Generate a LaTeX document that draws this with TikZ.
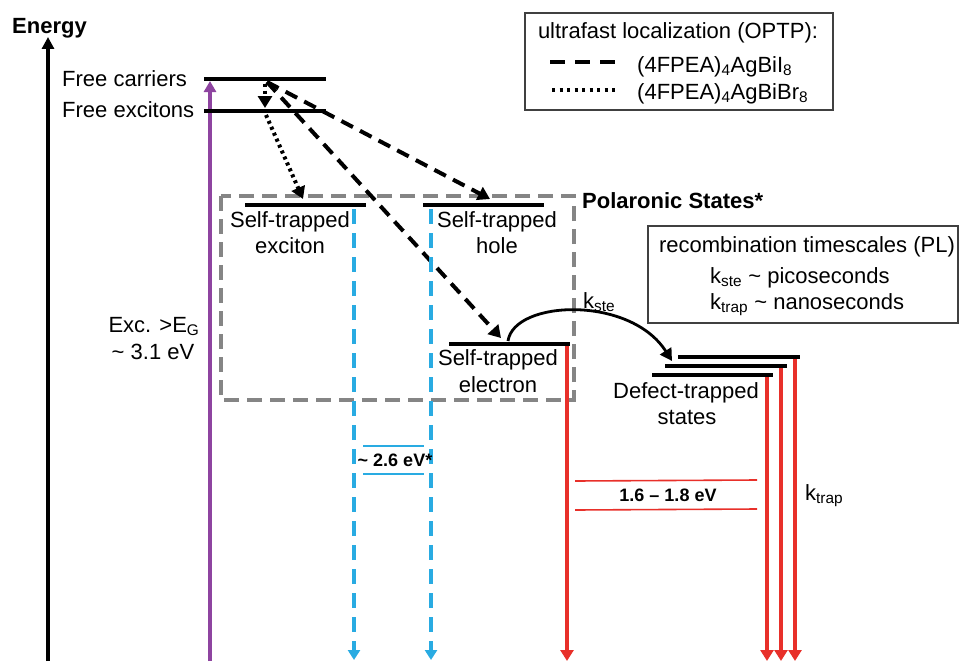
\documentclass[tikz,border=0pt]{standalone}
\usepackage{fontspec}
\setmainfont{Liberation Sans}
\usetikzlibrary{arrows.meta}
\definecolor{excpurple}{HTML}{8E44A0}
\definecolor{skyblue}{HTML}{29ABE2}
\definecolor{lumred}{HTML}{E8302A}
\definecolor{boxgray}{HTML}{858585}
\begin{document}
\begin{tikzpicture}[x=1pt,y=-1pt,
  lvl/.style={line width=3.8pt},
  txt/.style={font=\fontsize{22}{26}\selectfont, inner sep=0pt, anchor=base},
  btxt/.style={font=\fontsize{22}{26}\selectfont\bfseries, inner sep=0pt, anchor=base},
  smallb/.style={font=\fontsize{18}{22}\selectfont\bfseries, inner sep=0pt, anchor=base},
  dashedarrow/.style={line width=4pt, dash pattern=on 13pt off 8pt, -{Triangle[width=14pt,length=12pt]}},
  dottedarrow/.style={line width=4pt, dash pattern=on 3pt off 3.5pt, -{Triangle[width=14pt,length=12pt]}},
  bluearrow/.style={draw=skyblue, line width=3.3pt, dash pattern=on 15pt off 9pt, -{Triangle[width=12pt,length=10pt]}},
  redarrow/.style={draw=lumred, line width=3.3pt, -{Triangle[width=13pt,length=11pt]}},
  infobox/.style={draw=black!75, line width=1.2pt}
]
\useasboundingbox (0,0) rectangle (960,661);

% energy axis
\coordinate (axB) at (48,661);
\coordinate (axT) at (48,37);
\draw[line width=4pt, -{Triangle[width=12pt,length=12pt]}] (axB) -- (axT);
\node[btxt] (energy) at (49.5,34) {Energy};

% excitation
\coordinate (exB) at (210,661);
\coordinate (exT) at (210,81);
\draw[draw=excpurple, line width=3.3pt, -{Triangle[width=12pt,length=11pt]}] (exB) -- (exT);
\node[txt] (exc1) at (154,332) {Exc. >E\textsubscript{G}};
\node[txt] (exc2) at (153,359) {\textasciitilde{} 3.1 eV};

% free carriers / excitons
\coordinate (fcL) at (204,79); \coordinate (fcR) at (326,79);
\coordinate (feL) at (204,111); \coordinate (feR) at (326,111);
\draw[lvl] (fcL) -- (fcR);
\draw[lvl] (feL) -- (feR);
\node[txt, anchor=base west] (fc) at (62,86) {Free carriers};
\node[txt, anchor=base west] (fe) at (62,117) {Free excitons};

% polaronic box
\coordinate (pbTL) at (221,196);
\coordinate (pbBR) at (574,400);
\draw[draw=boxgray, line width=3.3pt, dash pattern=on 15pt off 8pt] (pbTL) rectangle (pbBR);
\node[btxt, anchor=base west] (pol) at (582,208) {Polaronic States*};

% self-trapped levels
\coordinate (steL) at (245,205); \coordinate (steR) at (366,205);
\coordinate (sthL) at (423,205); \coordinate (sthR) at (544,205);
\coordinate (steeL) at (449,344); \coordinate (steeR) at (570,344);
\draw[lvl] (steL) -- (steR);
\draw[lvl] (sthL) -- (sthR);
\draw[lvl] (steeL) -- (steeR);
\node[txt] (ste1) at (290,227) {Self-trapped};
\node[txt] (ste2) at (290,253) {exciton};
\node[txt] (sth1) at (497,227) {Self-trapped};
\node[txt] (sth2) at (497,253) {hole};
\node[txt] (stee1) at (498,365) {Self-trapped};
\node[txt] (stee2) at (498,392) {electron};

% localization arrows
\coordinate (src) at (267,82);
\coordinate (dsrc) at (265,84);
\coordinate (dmid) at (265,108);
\coordinate (dsrc2) at (266,115);
\coordinate (steTop) at (303,199);
\coordinate (sthTop) at (490,199);
\coordinate (steeTop) at (501,338);
\draw[dottedarrow] (dsrc) -- (dmid);
\draw[dottedarrow] (dsrc2) -- (steTop);
\draw[dashedarrow] (src) -- (sthTop);
\draw[dashedarrow] (src) -- (steeTop);

% blue emission
\coordinate (b1T) at (354,209); \coordinate (b1B) at (354,660);
\coordinate (b2T) at (431,209); \coordinate (b2B) at (431,660);
\draw[bluearrow] (b1T) -- (b1B);
\draw[bluearrow] (b2T) -- (b2B);
\coordinate (bl1L) at (363,446); \coordinate (bl1R) at (424,446);
\coordinate (bl2L) at (363,474); \coordinate (bl2R) at (424,474);
\draw[skyblue, line width=1.6pt] (bl1L) -- (bl1R);
\draw[skyblue, line width=1.6pt] (bl2L) -- (bl2R);
\node[smallb] (blue) at (395,466) {\textasciitilde{} 2.6 eV*};

% red emission from STE electron
\coordinate (r0T) at (567,346); \coordinate (r0B) at (567,661);
\draw[redarrow] (r0T) -- (r0B);

% k_ste transfer
\coordinate (kS) at (508,341);
\coordinate (kE) at (672,361);
\draw[line width=2.8pt, -{Triangle[width=13pt,length=12pt]}] (kS) .. controls (514,300) and (630,295) .. (kE);
\node[txt, anchor=base west] (kste) at (583,308) {k\textsubscript{ste}};

% defect-trapped levels
\coordinate (d1L) at (678,357); \coordinate (d1R) at (800,357);
\coordinate (d2L) at (665,366); \coordinate (d2R) at (787,366);
\coordinate (d3L) at (652,375); \coordinate (d3R) at (773,375);
\draw[lvl] (d1L) -- (d1R);
\draw[lvl] (d2L) -- (d2R);
\draw[lvl] (d3L) -- (d3R);
\node[txt] (dt1) at (686,398) {Defect-trapped};
\node[txt] (dt2) at (687,424) {states};
\coordinate (r1T) at (767,377); \coordinate (r1B) at (767,661);
\coordinate (r2T) at (781,368); \coordinate (r2B) at (781,661);
\coordinate (r3T) at (795,359); \coordinate (r3B) at (795,661);
\draw[redarrow] (r1T) -- (r1B);
\draw[redarrow] (r2T) -- (r2B);
\draw[redarrow] (r3T) -- (r3B);
\node[txt, anchor=base west] (ktrap) at (805,500) {k\textsubscript{trap}};

\coordinate (rl1L) at (575,481); \coordinate (rl1R) at (757,480);
\coordinate (rl2L) at (575,510); \coordinate (rl2R) at (757,509);
\draw[lumred, line width=1.6pt] (rl1L) -- (rl1R);
\draw[lumred, line width=1.6pt] (rl2L) -- (rl2R);
\node[smallb] (redlbl) at (668,501) {1.6 -- 1.8 eV};

% legend box
\node[infobox, minimum width=308pt, minimum height=97pt, inner sep=0pt] (legend) at (679,61.5) {};
\node[txt] (leg0) at (678,38) {ultrafast localization (OPTP):};
\coordinate (ldL) at (550,62); \coordinate (ldR) at (620,62);
\draw[line width=4pt, dash pattern=on 15pt off 10pt] (ldL) -- (ldR);
\node[txt, anchor=base west] (leg1) at (637,72) {(4FPEA)\textsubscript{4}AgBiI\textsubscript{8}};
\coordinate (lpL) at (552,90); \coordinate (lpR) at (618,90);
\draw[line width=4pt, dash pattern=on 3pt off 4.5pt] (lpL) -- (lpR);
\node[txt, anchor=base west] (leg2) at (637,99) {(4FPEA)\textsubscript{4}AgBiBr\textsubscript{8}};

% recombination box
\node[infobox, minimum width=310pt, minimum height=97pt, inner sep=0pt] (recbox) at (803,274.5) {};
\node[txt] (rec0) at (807,252) {recombination timescales (PL)};
\node[txt, anchor=base west] (rec1) at (710,283) {k\textsubscript{ste} \textasciitilde{} picoseconds};
\node[txt, anchor=base west] (rec2) at (710,309) {k\textsubscript{trap} \textasciitilde{} nanoseconds};
\end{tikzpicture}
\end{document}
